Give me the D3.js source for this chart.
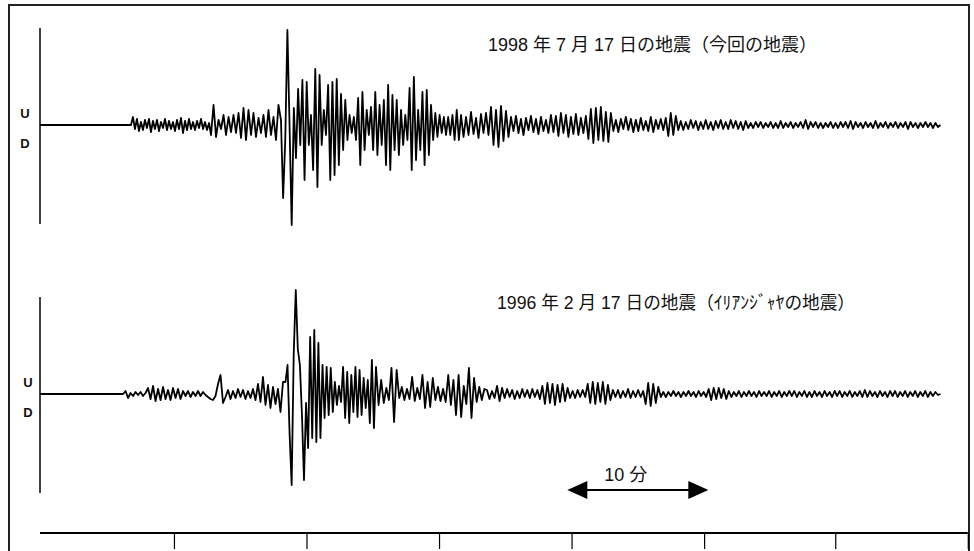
<!DOCTYPE html>
<html>
<head>
<meta charset="utf-8">
<script src="https://cdn.jsdelivr.net/npm/d3@7"></script>
<style>
  body { margin: 0; background: #fff; }
  svg { display: block; }
  text { font-family: "Liberation Sans", "Noto Sans CJK JP", sans-serif; fill: #111; }
</style>
</head>
<body>
<svg width="974" height="551"></svg>
<script>
// time axis in minutes from the start of each record, amplitude in trace units (+ = up)

// 1998-07-17 record: segment break times, then the read-off swings of each segment
const quake98Breaks = [6.45, 12.13, 17.09, 29.86, 64.04];
const quake98Noise = [0, 8, -4, 6, -6, 3, -5, 5, -3, 6, -7, 4, -4, 5, -6, 3, -3, 6, -5, 4,
  -4, 3, -6, 5, -4, 7, -8, 4, -5, 6, -4, 3, -5, 4, -3, 6, -4, 3, -5, 2];
const quake98Early = [-10, 20, -12, 5, -4, 10, -10, 8, -7, 10, -8, 12, -13, 17, -15, 15, -10, 12,
  -12, 7, -8, 10, -12, 15, -10, 8, -15, 20];
const quake98Main = [5, -73, -15, 95, 0, -100,
  17, -33, 36, -20, 45, -55, 43, -20, 10, -45,
  56, -62, 50, -20, 15, -10, 40, -55, 43, -50,
  46, -40, 31, -25, 25, -15, 10, -8, 8, -15,
  27, -40, 33, -25, 15, -10, 18, -25, 33, -30,
  20, -20, 25, -40, 40, -45, 30, -25, 25, -30,
  15, -20, 10, -15, 37, -45, 48, -35, 15, -25,
  33, -40, 35, -30, 20, -15, 12, -12, 10, -8,
  8, -10, 8, -10, 10, -15, 15, -15];
const quake98Coda = [10, -12, 8, -10, 13, -9, 7, -13, 11, -8, 12, -10,
  18, -20, 15, -22, 19, -16, 14, -12,
  8, -6, 9, -8, 6, -10, 7, -5, 9, -7, 6, -9, 8, -6, 5, -8, 10, -7,
  9, -11, 12, -8, 10, -12, 8, -9, 11, -10, 7, -8, 9,
  -14, 16, -18, 17, -15, 18, -16, 13, -17, 12,
  -6, 5, -7, 6, -4, 8, -5, 6, -7, 5, -6, 7, -5, 4, -6, 8, -7, 5, -4, 6, -5, 7,
  -11, 12, -10, 9,
  -5, 4, -5, 3, -4, 5, -3, 4, -5, 3, -4, 5, -4, 3, -5, 4, -3, 5, -4, 3, -4, 5, -3, 4, -4, 3, -5, 4,
  -3, 2, -3, 3, -2, 3, -3, 2, -2, 3, -3, 2, -3, 4, -3, 2, -2, 3, -3, 2,
  -2, 3, -3, 5, -4, 3, -2, 3, -3, 2, -3, 2, -2, 3, -3, 2, -3, 3, -2, 3,
  -3, 4, -4, 3, -2, 2, -3, 3, -2, 2, -3, 4, -3, 2, -2, 3, -3, 2, -2, 3,
  -3, 2, -2, 3, -4, 3, -2, 2, -3, 2, -2, 3, -2, 2, -3, 2, -2, 0];

// 1996-02-17 record
const quake96Breaks = [5.89, 17.41, 23.83, 31.70, 64.04];
const quake96Early = [0, 3, -4, 1,
  -2, 2, -1, 2, -2, 1,
  6, -5, 8, -7, 5, -6, 7, -5, 4, -6, 6, -4, 5, -5,
  3, -2, 3, -3, 2, -2, 3, -2, 2, -1,
  -3, -5, -6, -2,
  10, 19,
  -9, -3,
  4, -5, 3, -4, 5, -3, 4, -5, 3, -4, 5,
  -6, 10, -8, 17, -11, 9, -14, 7, -10, 5, -18, 12];
const quake96Main = [12, 29, -40, -91, 40, 104, 45, 29, -20, -86,
  -9, -54, 57, -44, 64, -48, 51, -44, 29, -24,
  27, -21, 26, -18, 12, -11, 8, -8, 27, -24,
  22, -29, 19, -18, 27, -23, 24, -21, 16, -14,
  14, -29, 34, -34];
const quake96Surface = [27, -11, 14, -9, 6, -6, 26, -28, 24, -4,
  7, -6, 5, -5, 17, -7, 6, -5, 19, -14,
  12, -13, 16, -6, 7, -7, 5, -8, 19, -11,
  14, -21, 19, -23, 8, -10, 26, -24, 16, -8,
  7, -6, 5];
const quake96Coda = [4, -5, 3, -4,
  8, -7, 6,
  -4, 5, -3, 4, -5, 3, -4, 5, -3, 4, -4, 5, -3, 4, -5,
  8, -10, 11, -9, 10, -11, 9, -8, 10, -7, 6,
  -4, 3, -4, 4, -3, 4, -3,
  10, -9, 12, -10, 11, -8, 12, -10, 9, -6,
  4, -3, 4, -4, 3, -3, 5, -4, 3, -3, 4, -3, 3,
  -10, 11, -12, 10, -9, 7,
  -3, 2, -3, 2, -2, 3, -2, 2, -3, 2, -2, 3, -2, 2, -3, 3, -2, 2, -3,
  5, -6, 6, -5, 6, -4, 5, -5, 3,
  -3, 2, -2, 3, -3, 2, -2, 3, -2, 2, -3, 3, -2, 2, -2, 3, -3, 2, -2, 3,
  -3, 2, -2, 3, -2, 3, -3, 2, -2, 3, -3, 2, -3, 3, -2, 2, -3, 3, -2, 2,
  -3, 3, -2, 3, -3, 2, -2, 3, -3, 2, -2, 3, -3, 4, -3, 3, -2, 2, -3, 3,
  -2, 2, -3, 3, -2, 3, -3, 2, -2, 3, -3, 2, -2, 3, -3, 2, -2, 3, -3, 2,
  -2, 2, -1, 0];

const titles = ["1998 年 7 月 17 日の地震（今回の地震）", "1996 年 2 月 17 日の地震（ｲﾘｱﾝｼﾞｬﾔの地震）"];
const scaleLabel = "10 分";
const scaleBar = [37.4, 47.4];           // 10 minutes
const rulerTicks = [9.5, 18.9, 28.3, 37.7, 47.1, 56.4, 65.8];

const svg = d3.select("svg");

var x = d3.scaleLinear().domain([0, 66]).range([40, 970.6]);

function buildTrace(breaks, segments) {
  var pts = [[0, 0], [breaks[0], 0]];
  segments.forEach((vals, k) => {
    var t0 = breaks[k],
      step = (breaks[k + 1] - t0) / vals.length;
    vals.forEach((v, i) => pts.push([t0 + step * i, v]));
  });
  return pts;
}

var panels = [
  { trace: buildTrace(quake98Breaks, [quake98Noise, quake98Early, quake98Main, quake98Coda]),
    base: 125, title: titles[0], tx: 488, tw: 329, ty: 51, labelX: 25 },
  { trace: buildTrace(quake96Breaks, [quake96Early, quake96Main, quake96Surface, quake96Coda]),
    base: 394, title: titles[1], tx: 497, tw: 358, ty: 309, labelX: 28 }
];

// frame
svg.append("rect")
  .attr("x", 9).attr("y", 5)
  .attr("width", 960).attr("height", 560)
  .attr("fill", "none")
  .attr("stroke", "#222")
  .attr("stroke-width", 2);

panels.forEach((p) => {
  var y = d3.scaleLinear().domain([-100, 100]).range([p.base + 100, p.base - 100]);
  var g = svg.append("g");

  // amplitude axis
  g.append("line")
    .attr("x1", x(0)).attr("x2", x(0))
    .attr("y1", y(97)).attr("y2", y(-99))
    .attr("stroke", "#000")
    .attr("stroke-width", 1.5);

  g.append("text").attr("x", p.labelX).attr("y", y(7))
    .attr("text-anchor", "middle").attr("font-size", 13).attr("font-weight", "bold")
    .text("U");
  g.append("text").attr("x", p.labelX).attr("y", y(-23))
    .attr("text-anchor", "middle").attr("font-size", 13).attr("font-weight", "bold")
    .text("D");

  g.append("path")
    .datum(p.trace)
    .attr("fill", "none")
    .attr("stroke", "#000")
    .attr("stroke-width", 1.8)
    .attr("stroke-linejoin", "round")
    .attr("d", d3.line().x((d) => x(d[0])).y((d) => y(d[1])));

  g.append("text")
    .attr("x", p.tx).attr("y", p.ty)
    .attr("font-size", 18)
    .attr("textLength", p.tw)
    .attr("lengthAdjust", "spacingAndGlyphs")
    .text(p.title);
});

// 10 minute scale bar
var ay = 490, head = 20, hw = 9;
var ax0 = x(scaleBar[0]), ax1 = x(scaleBar[1]);
svg.append("line")
  .attr("x1", ax0 + head - 2).attr("x2", ax1 - head + 2)
  .attr("y1", ay).attr("y2", ay)
  .attr("stroke", "#000").attr("stroke-width", 2);
svg.append("path")
  .attr("d", `M${ax0},${ay}L${ax0 + head},${ay - hw}L${ax0 + head},${ay + hw}Z`)
  .attr("fill", "#000");
svg.append("path")
  .attr("d", `M${ax1},${ay}L${ax1 - head},${ay - hw}L${ax1 - head},${ay + hw}Z`)
  .attr("fill", "#000");
svg.append("text")
  .attr("x", (ax0 + ax1) / 2 - 12).attr("y", 481)
  .attr("font-size", 18)
  .attr("text-anchor", "middle")
  .text(scaleLabel);

// time ruler along the bottom
var ruler = svg.append("g")
  .attr("transform", "translate(0,533)")
  .call(d3.axisBottom(x).tickValues(rulerTicks).tickSize(16).tickSizeOuter(0).tickFormat(""));
ruler.select(".domain").remove();
ruler.selectAll(".tick line").attr("stroke", "#000").attr("stroke-width", 1.2);
ruler.append("line")
  .attr("x1", x(0)).attr("x2", x(rulerTicks[rulerTicks.length - 1]))
  .attr("stroke", "#000")
  .attr("stroke-width", 2);
</script>
</body>
</html>
